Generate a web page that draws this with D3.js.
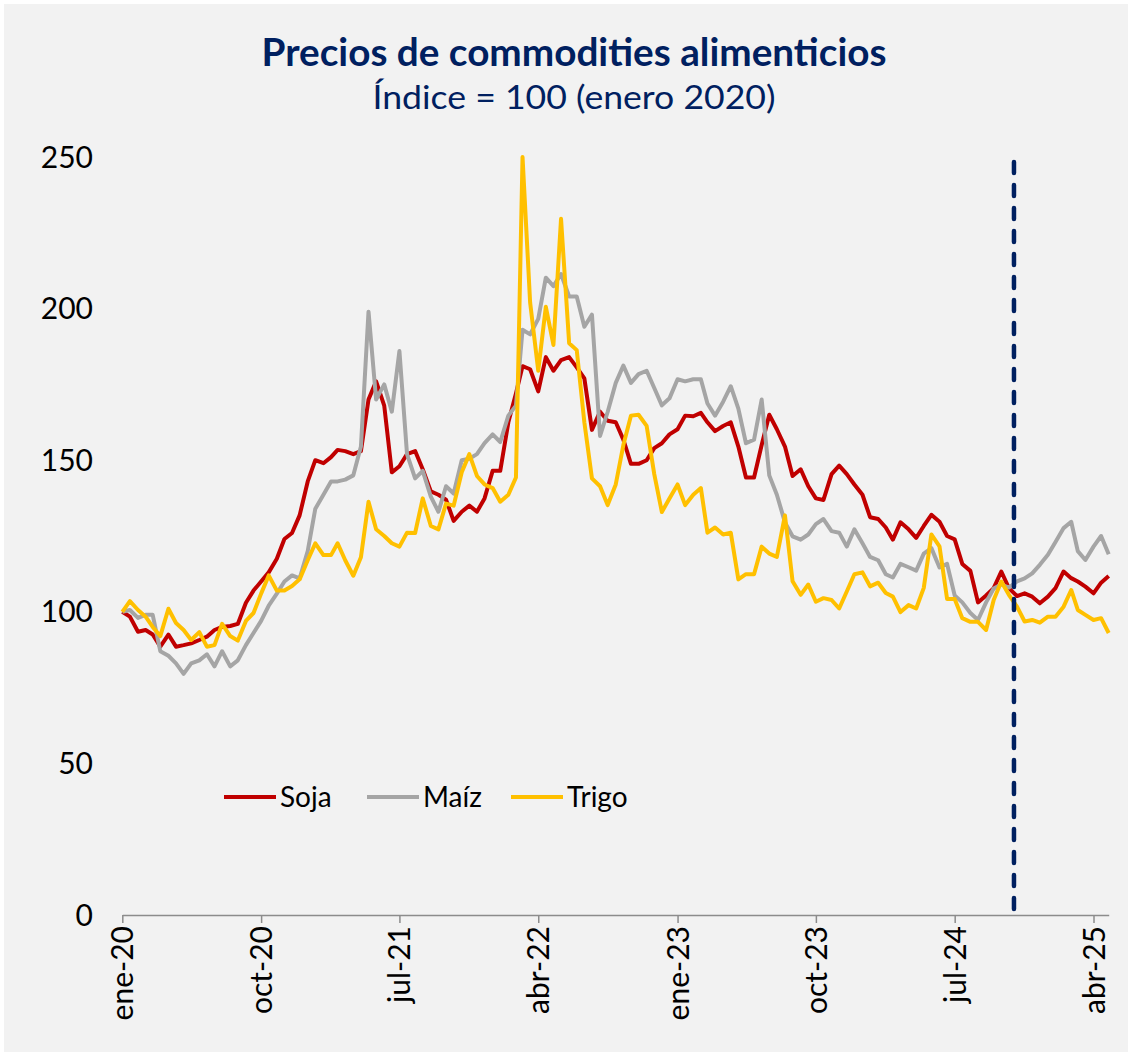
<!DOCTYPE html>
<html>
<head>
<meta charset="utf-8">
<script src="https://cdn.jsdelivr.net/npm/d3@7"></script>
<style>
  body { margin: 0; background: #ffffff; }
  svg { display: block; font-family: Lato, "Open Sans", sans-serif; }
</style>
</head>
<body>
<svg id="chart"></svg>
<script>
// Índice = 100 en enero 2020, lecturas quincenales (1 y 16 de cada mes)
const soja = [
  100, 98.4, 93.4, 94, 92.5, 88.5, 92.5, 88.5, 89, 89.6, 90.7, 91.8, 94, 95, 95.3, 96, 103, 107,
  110, 113, 117.5, 124, 126, 131.8, 143, 150, 149, 151, 153.4, 153, 152, 153, 170, 176, 168, 146, 148, 152, 153, 147,
  139.7, 138.6, 137, 130, 133, 135, 133, 137.4, 146.5, 146.5, 162.5, 172, 181, 180, 172.7, 184, 179.5, 183, 184, 180.6, 177, 160, 166,
  163, 162.5, 156.8, 148.8, 148.8, 150, 154, 155.6, 158.5, 160.2, 164.7, 164.5, 165.6, 162.5, 159.6, 161.3, 162.5, 154.5, 144.3, 144.3, 155, 165,
  160.2, 154.5, 144.8, 147, 141.4, 137.4, 136.9, 145.4, 148.2, 145.4, 142, 138.6, 131.2, 130.6, 127.8, 123.8, 129.5, 127.2, 124.4, 128.3, 132, 129.7,
  125, 123.9, 115.8, 113.5, 103.1, 105.4, 107.8, 113.3, 107.8, 105.2, 106.1, 105, 102.8, 105, 107.8, 113.3, 111.1, 110, 108.3, 106.1, 109.6, 111.8
];
const maiz = [
  100, 100.6, 98, 99, 99, 87, 85.5, 83, 79.5, 83, 84, 86, 82, 87, 82, 84, 89, 93,
  97, 102, 106, 110, 112, 111, 120, 134, 138.6, 143, 143, 143.6, 145, 154.5, 199, 170, 175, 166, 186, 152, 144, 146.5,
  138, 133, 141.4, 139, 150, 150.5, 152, 155.6, 158.5, 156, 164.7, 168, 193, 191.5, 196.6, 210.2, 207.4, 211.4, 204, 204, 194, 198, 158,
  165.9, 175.5, 181.2, 175.5, 178.4, 179.5, 173.8, 168.1, 170.4, 176.7, 176, 176.7, 176.7, 168.7, 164.7, 169.3, 174.4, 167, 155.6, 156.8, 170, 145,
  138.6, 129.5, 124.9, 123.8, 125.5, 128.9, 130.6, 126.6, 126.1, 121.5, 127.2, 122.6, 118.1, 117, 112.4, 111.3, 115.8, 114.7, 113.6, 119.2, 121, 114.6,
  115.8, 105.4, 103.1, 99.6, 97.3, 103.1, 107.7, 109, 108, 110, 111, 112.7, 115.5, 118.8, 123, 127.6, 129.7, 120, 117.1, 121.5, 125, 119
];
const trigo = [
  100, 103.5, 100.6, 98.4, 95, 92, 101, 96.3, 94, 90.7, 93.3, 88.5, 89, 96, 92, 90.5, 97, 99.6,
  106, 112, 107, 107, 108.5, 110.7, 117, 122.6, 118.7, 118.7, 122.6, 117, 111.9, 118, 136.3, 127.2, 125, 122.6, 121.5, 126.1, 126, 137.4,
  128.3, 127.2, 135.7, 135, 146, 152, 144.8, 142, 140.8, 136.3, 138.6, 144.3, 250, 202, 179.5, 200.6, 188, 229.6, 188.6, 186.3, 162.5, 144, 141.4,
  135.2, 142, 155, 164.7, 165, 161.3, 145.4, 132.9, 137.4, 142, 135.2, 138.6, 140.8, 126.1, 127.8, 125.5, 126.1, 110.7, 112.4, 112.4, 121.5, 119.2,
  118.1, 131.8, 110.1, 105.6, 109, 103.3, 104.5, 103.9, 101.1, 106.7, 112.4, 113, 108.4, 109.6, 106.2, 105, 99.9, 102.2, 101.1, 107.9, 125.5, 121.6,
  104.2, 104.2, 97.9, 96.7, 96.7, 94, 103.9, 110, 105.6, 101.7, 96.8, 97.3, 96.4, 98.4, 98.4, 101.7, 107.2, 100.6, 99, 97.3, 97.9, 93
];

const seriesNames = ["Soja", "Maíz", "Trigo"];
const seriesColors = ["#c00000", "#a5a5a5", "#ffc000"];
const tickDates = ["2020-01-01", "2020-10-01", "2021-07-01", "2022-04-01", "2023-01-01", "2023-10-01", "2024-07-01", "2025-04-01"];
const tickLabels = ["ene-20", "oct-20", "jul-21", "abr-22", "ene-23", "oct-23", "jul-24", "abr-25"];
const yTicks = [0, 50, 100, 150, 200, 250];
const markerDate = "2024-10-26";

// fechas quincenales: 1 y 16 de cada mes desde enero 2020
const dates = d3.range(soja.length).map(i => new Date(2020, Math.floor(i / 2), i % 2 ? 16 : 1));
const parse = d3.timeParse("%Y-%m-%d");

const W = 1132, H = 1056;
const plot = { left: 122.3, right: 1108.7, top: 157, bottom: 915 };

const svg = d3.select("#chart").attr("width", W).attr("height", H);

svg.append("rect")
  .attr("x", 4).attr("y", 4)
  .attr("width", W - 8).attr("height", H - 8)
  .attr("fill", "#f2f2f2");

const x = d3.scaleTime()
  .domain([new Date(2020, 0, 1), new Date(2025, 4, 1)])
  .range([plot.left, plot.right]);

const y = d3.scaleLinear()
  .domain([0, 250])
  .range([plot.bottom, plot.top]);

// títulos
svg.append("text")
  .attr("x", 574).attr("y", 66)
  .attr("text-anchor", "middle")
  .attr("textLength", 625)
  .attr("lengthAdjust", "spacingAndGlyphs")
  .style("font-size", "39px").style("font-weight", "bold")
  .attr("fill", "#002060")
  .text("Precios de commodities alimenticios");

svg.append("text")
  .attr("x", 574).attr("y", 109)
  .attr("text-anchor", "middle")
  .attr("textLength", 403)
  .attr("lengthAdjust", "spacingAndGlyphs")
  .style("font-size", "33px")
  .attr("fill", "#002060")
  .text("Índice = 100 (enero 2020)");

// eje Y (solo etiquetas)
svg.append("g")
  .selectAll("text")
  .data(yTicks)
  .join("text")
  .attr("x", 93)
  .attr("y", d => y(d))
  .attr("dy", "0.35em")
  .attr("text-anchor", "end")
  .style("font-size", "30px")
  .attr("fill", "#000")
  .text(d => d);

// eje X
const xAxis = svg.append("g")
  .attr("transform", `translate(0,${plot.bottom})`)
  .call(d3.axisBottom(x)
    .tickValues(tickDates.map(parse))
    .tickFormat((d, i) => tickLabels[i])
    .tickSize(8)
    .tickSizeOuter(0));

xAxis.select(".domain").attr("stroke", "#8c8c8c").attr("stroke-width", 1.5);
xAxis.selectAll(".tick line").attr("stroke", "#8c8c8c").attr("stroke-width", 1.5);
xAxis.selectAll(".tick text")
  .attr("transform", "rotate(-90)")
  .attr("x", -11)
  .attr("y", 0)
  .attr("dy", "0.35em")
  .style("text-anchor", "end")
  .style("font-size", "30px")
  .style("font-family", "Lato, 'Open Sans', sans-serif")
  .attr("fill", "#000");

// series
const line = d3.line()
  .x((d, i) => x(dates[i]))
  .y(d => y(d));

[soja, maiz, trigo].forEach((vals, s) => {
  svg.append("path")
    .datum(vals)
    .attr("fill", "none")
    .attr("stroke", seriesColors[s])
    .attr("stroke-width", 4)
    .attr("stroke-linejoin", "round")
    .attr("d", line);
});

// línea vertical punteada
const mx = x(parse(markerDate));
svg.append("line")
  .attr("x1", mx).attr("x2", mx)
  .attr("y1", 162).attr("y2", plot.bottom)
  .attr("stroke", "#002060")
  .attr("stroke-width", 4.5)
  .attr("stroke-linecap", "round")
  .attr("stroke-dasharray", "11,12");

// leyenda
const legendX = [224, 367, 511];
const legend = svg.append("g");
seriesNames.forEach((name, i) => {
  legend.append("line")
    .attr("x1", legendX[i]).attr("x2", legendX[i] + 52)
    .attr("y1", 797).attr("y2", 797)
    .attr("stroke", seriesColors[i])
    .attr("stroke-width", 4);
  legend.append("text")
    .attr("x", legendX[i] + 56).attr("y", 797)
    .attr("dy", "0.35em")
    .style("font-size", "28px")
    .attr("fill", "#000")
    .text(name);
});
</script>
</body>
</html>
